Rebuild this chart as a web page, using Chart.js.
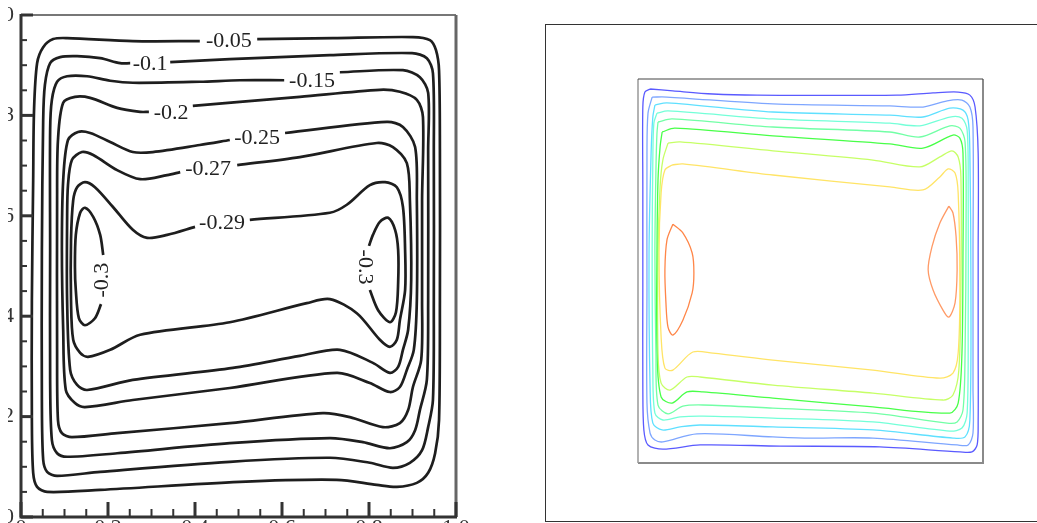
<!DOCTYPE html>
<html><head><meta charset="utf-8">
<script src="https://cdn.jsdelivr.net/npm/chart.js@4.4.1/dist/chart.umd.min.js"></script>
<style>
html,body{margin:0;padding:0;width:1037px;height:523px;overflow:hidden;background:#fff}
#lw{position:absolute;left:8px;top:0;width:470px;height:560px}
#rw{position:absolute;left:545px;top:24px;width:500px;height:496px;border:1px solid #333}
</style></head><body>
<div id="lw"><canvas id="lc"></canvas></div>
<div id="rw"><canvas id="rc"></canvas></div>
<script>
// ---------- Left panel: labelled contours (x, y in 0..1) ----------
const tickValues = [0, 0.2, 0.4, 0.6, 0.8, 1];
const minorStep = 0.05;

const cL005 = [[0.543,0.952],[0.717,0.954],[0.901,0.956],[0.940,0.950],[0.954,0.930],[0.961,0.890],[0.963,0.731],[0.963,0.432],[0.961,0.193],[0.952,0.127],[0.936,0.088],[0.910,0.068],[0.864,0.060],[0.818,0.064],[0.726,0.074],[0.503,0.070],[0.182,0.054],[0.060,0.050],[0.037,0.060],[0.028,0.088],[0.025,0.193],[0.025,0.432],[0.028,0.671],[0.030,0.811],[0.037,0.904],[0.051,0.936],[0.074,0.952],[0.106,0.954],[0.257,0.948],[0.411,0.948]];
const cL010 = [[0.343,0.906],[0.480,0.912],[0.710,0.920],[0.899,0.924],[0.933,0.914],[0.947,0.884],[0.949,0.731],[0.949,0.432],[0.947,0.233],[0.936,0.179],[0.922,0.133],[0.894,0.108],[0.855,0.098],[0.802,0.108],[0.710,0.118],[0.480,0.110],[0.182,0.090],[0.083,0.082],[0.060,0.090],[0.051,0.114],[0.048,0.233],[0.048,0.532],[0.051,0.791],[0.055,0.861],[0.067,0.904],[0.090,0.916],[0.129,0.918],[0.182,0.914],[0.228,0.904],[0.251,0.904]];
const cL015 = [[0.733,0.886],[0.878,0.890],[0.917,0.876],[0.936,0.845],[0.936,0.731],[0.936,0.432],[0.933,0.273],[0.917,0.213],[0.906,0.173],[0.887,0.149],[0.848,0.137],[0.786,0.149],[0.710,0.157],[0.480,0.147],[0.221,0.127],[0.106,0.120],[0.083,0.127],[0.071,0.153],[0.067,0.273],[0.067,0.532],[0.067,0.771],[0.071,0.831],[0.083,0.867],[0.106,0.878],[0.152,0.878],[0.205,0.869],[0.257,0.865],[0.411,0.867],[0.503,0.870],[0.605,0.870]];
const cL020 = [[0.395,0.819],[0.503,0.827],[0.641,0.837],[0.825,0.851],[0.871,0.847],[0.910,0.831],[0.924,0.797],[0.922,0.631],[0.922,0.432],[0.920,0.313],[0.901,0.259],[0.890,0.213],[0.871,0.187],[0.832,0.179],[0.756,0.199],[0.694,0.207],[0.480,0.187],[0.221,0.167],[0.117,0.159],[0.094,0.167],[0.085,0.193],[0.083,0.333],[0.083,0.631],[0.085,0.751],[0.097,0.825],[0.124,0.837],[0.159,0.835],[0.221,0.815],[0.274,0.807],[0.294,0.807]];
const cL025 = [[0.607,0.765],[0.841,0.787],[0.878,0.777],[0.906,0.737],[0.910,0.631],[0.910,0.432],[0.903,0.333],[0.887,0.293],[0.871,0.259],[0.848,0.249],[0.802,0.267],[0.726,0.287],[0.480,0.257],[0.257,0.233],[0.147,0.219],[0.124,0.227],[0.103,0.253],[0.097,0.373],[0.094,0.532],[0.097,0.671],[0.108,0.751],[0.131,0.767],[0.159,0.765],[0.205,0.747],[0.257,0.727],[0.303,0.727],[0.411,0.741],[0.480,0.751]];
const cL027 = [[0.497,0.701],[0.641,0.717],[0.818,0.745],[0.855,0.737],[0.887,0.705],[0.894,0.631],[0.897,0.472],[0.890,0.373],[0.878,0.333],[0.867,0.299],[0.848,0.287],[0.809,0.307],[0.733,0.333],[0.641,0.321],[0.487,0.297],[0.257,0.273],[0.152,0.253],[0.129,0.263],[0.113,0.293],[0.106,0.432],[0.106,0.592],[0.108,0.661],[0.117,0.711],[0.140,0.727],[0.166,0.721],[0.221,0.691],[0.274,0.673],[0.336,0.681],[0.366,0.687]];
const cL029 = [[0.526,0.592],[0.710,0.606],[0.749,0.622],[0.802,0.661],[0.837,0.667],[0.864,0.657],[0.878,0.618],[0.883,0.532],[0.883,0.452],[0.871,0.392],[0.864,0.353],[0.848,0.339],[0.825,0.353],[0.772,0.406],[0.710,0.434],[0.657,0.426],[0.480,0.388],[0.274,0.363],[0.205,0.333],[0.154,0.319],[0.136,0.327],[0.120,0.353],[0.115,0.432],[0.115,0.552],[0.120,0.631],[0.129,0.657],[0.147,0.667],[0.170,0.657],[0.211,0.618],[0.257,0.572],[0.290,0.556],[0.336,0.562],[0.400,0.578]];
const cL030a = [[0.184,0.424],[0.170,0.396],[0.147,0.382],[0.133,0.396],[0.126,0.452],[0.124,0.498],[0.126,0.562],[0.136,0.606],[0.147,0.616],[0.166,0.598],[0.182,0.562],[0.189,0.522]];
const cL030b = [[0.802,0.452],[0.821,0.412],[0.848,0.388],[0.862,0.408],[0.867,0.466],[0.867,0.532],[0.860,0.572],[0.844,0.596],[0.825,0.588],[0.809,0.562],[0.800,0.540]];
const leftContours = [cL005, cL010, cL015, cL020, cL025, cL027, cL029, cL030a, cL030b];

const labelText = ["-0.05","-0.1","-0.15","-0.2","-0.25","-0.27","-0.29","-0.3","-0.3"];
const labelX = [0.478,0.297,0.669,0.345,0.543,0.430,0.462,0.184,0.793];
const labelY = [0.950,0.904,0.870,0.807,0.757,0.695,0.588,0.472,0.498];
const labelRot = [0,0,0,0,0,0,0,-90,90];

// ---------- Right panel: coloured contours (x, y in 0..1) ----------
const cR1 = [[0.035,0.974],[0.101,0.969],[0.217,0.961],[0.345,0.958],[0.751,0.958],[0.855,0.964],[0.928,0.966],[0.962,0.958],[0.977,0.927],[0.986,0.807],[0.986,0.547],[0.986,0.286],[0.986,0.112],[0.983,0.047],[0.968,0.029],[0.933,0.029],[0.701,0.042],[0.412,0.044],[0.180,0.047],[0.072,0.036],[0.029,0.047],[0.017,0.086],[0.014,0.198],[0.014,0.458],[0.014,0.719],[0.014,0.927],[0.020,0.966],[0.035,0.974]];
const cR2 = [[0.041,0.953],[0.084,0.953],[0.391,0.935],[0.730,0.930],[0.826,0.927],[0.896,0.943],[0.939,0.945],[0.962,0.927],[0.971,0.875],[0.971,0.547],[0.971,0.198],[0.971,0.078],[0.957,0.047],[0.925,0.047],[0.681,0.065],[0.499,0.065],[0.391,0.068],[0.171,0.076],[0.072,0.055],[0.049,0.060],[0.035,0.078],[0.026,0.156],[0.026,0.458],[0.026,0.807],[0.029,0.911],[0.041,0.953]];
const cR3 = [[0.049,0.932],[0.084,0.938],[0.391,0.914],[0.730,0.906],[0.826,0.901],[0.904,0.924],[0.942,0.919],[0.957,0.893],[0.962,0.807],[0.965,0.458],[0.962,0.112],[0.948,0.068],[0.913,0.065],[0.681,0.086],[0.391,0.094],[0.180,0.099],[0.122,0.094],[0.070,0.086],[0.043,0.104],[0.035,0.198],[0.032,0.547],[0.038,0.807],[0.043,0.901],[0.049,0.932]];
const cR4 = [[0.055,0.911],[0.087,0.917],[0.391,0.896],[0.730,0.885],[0.817,0.878],[0.904,0.901],[0.939,0.898],[0.954,0.867],[0.957,0.719],[0.957,0.372],[0.954,0.130],[0.939,0.091],[0.904,0.083],[0.681,0.107],[0.391,0.117],[0.188,0.122],[0.122,0.120],[0.072,0.112],[0.049,0.130],[0.043,0.242],[0.041,0.547],[0.043,0.789],[0.046,0.885],[0.055,0.911]];
const cR5 = [[0.058,0.888],[0.099,0.896],[0.391,0.875],[0.730,0.862],[0.817,0.849],[0.904,0.878],[0.933,0.872],[0.948,0.836],[0.951,0.633],[0.948,0.286],[0.942,0.138],[0.925,0.107],[0.896,0.104],[0.681,0.130],[0.391,0.143],[0.188,0.151],[0.130,0.148],[0.087,0.128],[0.058,0.151],[0.052,0.286],[0.049,0.547],[0.052,0.763],[0.055,0.859],[0.058,0.888]];
const cR6 = [[0.070,0.862],[0.107,0.872],[0.391,0.852],[0.730,0.831],[0.826,0.820],[0.913,0.854],[0.933,0.846],[0.942,0.807],[0.942,0.547],[0.939,0.286],[0.928,0.156],[0.904,0.130],[0.681,0.146],[0.391,0.169],[0.188,0.185],[0.142,0.185],[0.099,0.156],[0.067,0.172],[0.055,0.286],[0.055,0.547],[0.058,0.737],[0.064,0.823],[0.070,0.862]];
const cR7 = [[0.087,0.833],[0.122,0.836],[0.391,0.813],[0.681,0.789],[0.817,0.771],[0.875,0.797],[0.910,0.813],[0.928,0.797],[0.936,0.745],[0.936,0.458],[0.930,0.242],[0.913,0.177],[0.884,0.164],[0.681,0.182],[0.391,0.203],[0.180,0.224],[0.142,0.224],[0.093,0.190],[0.067,0.208],[0.058,0.286],[0.058,0.547],[0.064,0.719],[0.072,0.789],[0.087,0.833]];
const cR8 = [[0.099,0.776],[0.130,0.779],[0.391,0.750],[0.730,0.719],[0.826,0.711],[0.875,0.745],[0.899,0.766],[0.919,0.755],[0.928,0.703],[0.933,0.458],[0.928,0.286],[0.913,0.234],[0.875,0.221],[0.681,0.242],[0.391,0.268],[0.217,0.286],[0.159,0.289],[0.101,0.242],[0.078,0.247],[0.067,0.328],[0.061,0.547],[0.067,0.703],[0.078,0.763],[0.099,0.776]];
const cR9a = [[0.101,0.622],[0.130,0.599],[0.157,0.547],[0.162,0.495],[0.157,0.443],[0.130,0.372],[0.101,0.333],[0.087,0.354],[0.081,0.417],[0.078,0.503],[0.084,0.581],[0.101,0.622]];
const cR9b = [[0.901,0.669],[0.913,0.651],[0.922,0.589],[0.925,0.503],[0.919,0.417],[0.901,0.380],[0.884,0.398],[0.855,0.451],[0.841,0.503],[0.852,0.563],[0.875,0.625],[0.901,0.669]];
const rightContours = [cR1, cR2, cR3, cR4, cR5, cR6, cR7, cR8, cR9a, cR9b];
const rightColors = ["#5a5aff","#7ea6ff","#5fe0ff","#74ffd8","#72ffa6","#48ff48","#c6ff66","#ffe466","#ff8648","#ff9a66"];

const toPts = arr => arr.map(p => ({x: p[0], y: p[1]}));

// ---------- Left chart ----------
const leftDecor = {
  id: 'leftDecor',
  afterDatasetsDraw(chart) {
    const {ctx, chartArea: a, scales: {x, y}} = chart;
    ctx.save();
    ctx.strokeStyle = '#777'; ctx.lineWidth = 2;
    ctx.beginPath(); ctx.moveTo(a.left, a.top); ctx.lineTo(a.right, a.top); ctx.stroke();
    ctx.strokeStyle = '#666'; ctx.lineWidth = 3;
    ctx.beginPath(); ctx.moveTo(a.right, a.top); ctx.lineTo(a.right, a.bottom); ctx.stroke();
    ctx.strokeStyle = '#333'; ctx.lineWidth = 3;
    ctx.beginPath(); ctx.moveTo(a.left, a.top - 1); ctx.lineTo(a.left, a.bottom); ctx.lineTo(a.right + 1, a.bottom); ctx.stroke();
    const n = Math.round(1 / minorStep);
    for (let i = 0; i <= n; i++) {
      const v = i * minorStep;
      const major = tickValues.some(t => Math.abs(t - v) < 1e-6);
      ctx.lineWidth = major ? 3 : 2;
      const py = y.getPixelForValue(v);
      ctx.beginPath(); ctx.moveTo(a.left, py); ctx.lineTo(a.left + (major ? 12 : 6), py); ctx.stroke();
      const px = x.getPixelForValue(v);
      ctx.beginPath(); ctx.moveTo(px, a.bottom); ctx.lineTo(px, a.bottom - (major ? 15 : 8)); ctx.stroke();
    }
    ctx.fillStyle = '#222';
    ctx.font = '22px "Liberation Serif", "DejaVu Serif", serif';
    ctx.textAlign = 'center'; ctx.textBaseline = 'middle';
    labelText.forEach((t, i) => {
      ctx.save();
      ctx.translate(x.getPixelForValue(labelX[i]), y.getPixelForValue(labelY[i]));
      ctx.rotate(labelRot[i] * Math.PI / 180);
      ctx.fillText(t, 0, 1);
      ctx.restore();
    });
    ctx.restore();
  }
};

const xTickFont = {family: '"Liberation Serif", serif', size: 22, lineHeight: 1};
const yTickFont = {family: '"Liberation Serif", serif', size: 22, lineHeight: 0.4};
new Chart(document.getElementById('lc'), {
  type: 'scatter',
  data: {
    datasets: leftContours.map(c => ({
      data: toPts(c), showLine: true, pointRadius: 0, borderColor: '#1e1e1e',
      borderWidth: 2.7, tension: 0.3, fill: false
    }))
  },
  options: {
    responsive: true, maintainAspectRatio: false, animation: false,
    layout: {padding: {left: 0, top: 15, right: 22, bottom: 0}},
    plugins: {legend: {display: false}, tooltip: {enabled: false}},
    scales: {
      x: {type: 'linear', min: 0, max: 1, afterFit(s) { s.height = 43; },
          ticks: {stepSize: 0.2, font: xTickFont, color: '#333', padding: 0, maxRotation: 0},
          grid: {display: false, drawTicks: false}, border: {display: false}},
      y: {type: 'linear', min: 0, max: 1, afterFit(s) { s.width = 13; },
          ticks: {stepSize: 0.2, font: yTickFont, color: '#333', padding: 7},
          grid: {display: false, drawTicks: false}, border: {display: false}}
    }
  },
  plugins: [leftDecor]
});

// ---------- Right chart ----------
const rightDecor = {
  id: 'rightDecor',
  afterDatasetsDraw(chart) {
    const {ctx, chartArea: a} = chart;
    ctx.save();
    ctx.strokeStyle = '#8a8a8a'; ctx.lineWidth = 2;
    ctx.beginPath(); ctx.moveTo(a.right, a.top); ctx.lineTo(a.right, a.bottom); ctx.lineTo(a.left, a.bottom); ctx.stroke();
    ctx.lineWidth = 1.5; ctx.strokeStyle = '#999';
    ctx.beginPath(); ctx.moveTo(a.left, a.bottom); ctx.lineTo(a.left, a.top); ctx.stroke();
    ctx.strokeStyle = '#444'; ctx.lineWidth = 1.2;
    ctx.beginPath(); ctx.moveTo(a.left, a.top); ctx.lineTo(a.right, a.top); ctx.stroke();
    ctx.restore();
  }
};

new Chart(document.getElementById('rc'), {
  type: 'scatter',
  data: {
    datasets: rightContours.map((c, i) => ({
      data: toPts(c), showLine: true, pointRadius: 0, borderColor: rightColors[i],
      borderWidth: 1.3, tension: 0.3, fill: false
    }))
  },
  options: {
    responsive: true, maintainAspectRatio: false, animation: false,
    layout: {padding: {left: 92, top: 54, right: 63, bottom: 58}},
    plugins: {legend: {display: false}, tooltip: {enabled: false}},
    scales: {
      x: {type: 'linear', min: 0, max: 1, display: false},
      y: {type: 'linear', min: 0, max: 1, display: false}
    }
  },
  plugins: [rightDecor]
});
</script>
</body></html>
